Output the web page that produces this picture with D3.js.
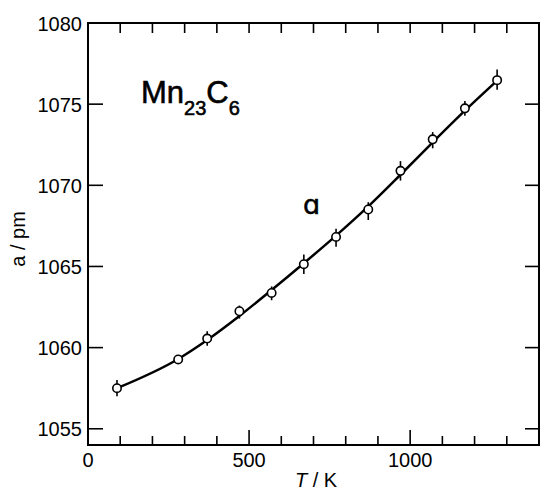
<!DOCTYPE html>
<html>
<head>
<meta charset="utf-8">
<script src="https://cdn.jsdelivr.net/npm/d3@7"></script>
<style>
  body { margin: 0; background: #fff; }
  text { font-family: "Liberation Sans", Arial, sans-serif; fill: #000; }
</style>
</head>
<body>
<svg width="541" height="493"></svg>
<script>
// temperatures (K) and lattice parameter a (pm)
var tempK = [90, 280, 370, 470, 570, 670, 770, 870, 970, 1070, 1170, 1270]
var latticeA = [1057.5, 1059.27, 1060.56, 1062.24, 1063.37, 1065.14, 1066.82, 1068.51, 1070.89, 1072.83, 1074.74, 1076.48]
var errUp = [0.5, 0.2, 0.45, 0.35, 0.4, 0.6, 0.5, 0.45, 0.6, 0.45, 0.45, 0.65]
var errDown = [0.5, 0.2, 0.45, 0.45, 0.45, 0.6, 0.6, 0.65, 0.6, 0.55, 0.45, 0.6]
// smooth fitted curve at the same temperatures
var fitA = [1057.5, 1059.3, 1060.47, 1061.95, 1063.55, 1065.2, 1066.9, 1068.7, 1070.65, 1072.65, 1074.6, 1076.45]

var yMajor = [1055, 1060, 1065, 1070, 1075, 1080]
var xLabels = [0, 500, 1000]

var svg = d3.select("svg")
var margin = { top: 23, right: 2, bottom: 48, left: 88 }
var width = +svg.attr("width") - margin.left - margin.right
var height = +svg.attr("height") - margin.top - margin.bottom
var g = svg.append("g").attr("transform", "translate(" + margin.left + "," + margin.top + ")")

var x = d3.scaleLinear().domain([0, 1400]).range([0, width])
var y = d3.scaleLinear().domain([1054, 1080]).range([height, 0])

var minorX = d3.range(100, 1400, 100)

// frame
g.append("rect")
    .attr("width", width).attr("height", height)
    .attr("fill", "none").attr("stroke", "#000").attr("stroke-width", 2)

// bottom ticks (inward)
g.selectAll(".xb").data(minorX).enter().append("line")
    .attr("x1", d => x(d)).attr("x2", d => x(d))
    .attr("y1", height)
    .attr("y2", d => d % 500 === 0 ? height - 15 : height - 9)
    .attr("stroke", "#000").attr("stroke-width", 1.6)

// top ticks (inward)
g.selectAll(".xt").data(minorX).enter().append("line")
    .attr("x1", d => x(d)).attr("x2", d => x(d))
    .attr("y1", 0).attr("y2", 10)
    .attr("stroke", "#000").attr("stroke-width", 1.6)

// left + right ticks
g.selectAll(".yl").data(yMajor).enter().append("line")
    .attr("x1", 0).attr("x2", 15)
    .attr("y1", d => y(d)).attr("y2", d => y(d))
    .attr("stroke", "#000").attr("stroke-width", 1.6)
g.selectAll(".yr").data(yMajor).enter().append("line")
    .attr("x1", width).attr("x2", width - 14)
    .attr("y1", d => y(d)).attr("y2", d => y(d))
    .attr("stroke", "#000").attr("stroke-width", 1.6)

// tick labels
g.selectAll(".ylab").data(yMajor).enter().append("text")
    .attr("x", -6).attr("y", d => y(d) + 7.5)
    .attr("text-anchor", "end")
    .style("font-size", "20px")
    .text(d => d)

g.selectAll(".xlab").data(xLabels).enter().append("text")
    .attr("x", d => x(d)).attr("y", height + 22)
    .attr("text-anchor", "middle")
    .style("font-size", "20px")
    .text(d => d)

// axis titles
var xt = svg.append("text")
    .attr("x", 316).attr("y", 487)
    .attr("text-anchor", "middle")
    .style("font-size", "20px")
xt.append("tspan").style("font-style", "italic").text("T")
xt.append("tspan").text(" / K")

var yt = svg.append("text")
    .attr("transform", "translate(25,239) rotate(-90)")
    .attr("text-anchor", "middle")
    .style("font-size", "20px")
yt.append("tspan").text("a / pm")

// compound label
var lab = svg.append("text")
    .attr("x", 141).attr("y", 103)
    .style("font-size", "31px")
    .attr("stroke", "#000").attr("stroke-width", 0.6)
lab.append("tspan").text("Mn")
lab.append("tspan").attr("dy", 12).style("font-size", "20px").text("23")
lab.append("tspan").attr("dy", -12).text("C")
lab.append("tspan").attr("dy", 12).style("font-size", "20px").text("6")

svg.append("text")
    .attr("x", 303).attr("y", 214)
    .style("font-size", "27px")
    .style("font-family", "DejaVu Sans")
    .attr("stroke", "#000").attr("stroke-width", 0.5)
    .text("ɑ")

// fitted curve
var fitPts = tempK.map((t, i) => [t, fitA[i]])
var line = d3.line()
    .x(d => x(d[0])).y(d => y(d[1]))
    .curve(d3.curveMonotoneX)
g.append("path")
    .attr("d", line(fitPts))
    .attr("fill", "none").attr("stroke", "#000").attr("stroke-width", 2.5)

// error bars
var pts = tempK.map((t, i) => [t, latticeA[i]])
g.selectAll(".err").data(pts).enter().append("line")
    .attr("x1", d => x(d[0])).attr("x2", d => x(d[0]))
    .attr("y1", (d, i) => y(d[1] + errUp[i]))
    .attr("y2", (d, i) => y(d[1] - errDown[i]))
    .attr("stroke", "#000").attr("stroke-width", 1.6)

// points
g.selectAll(".pt").data(pts).enter().append("circle")
    .attr("cx", d => x(d[0])).attr("cy", d => y(d[1]))
    .attr("r", 4.2)
    .attr("fill", "#fff").attr("stroke", "#000").attr("stroke-width", 1.6)
</script>
</body>
</html>
